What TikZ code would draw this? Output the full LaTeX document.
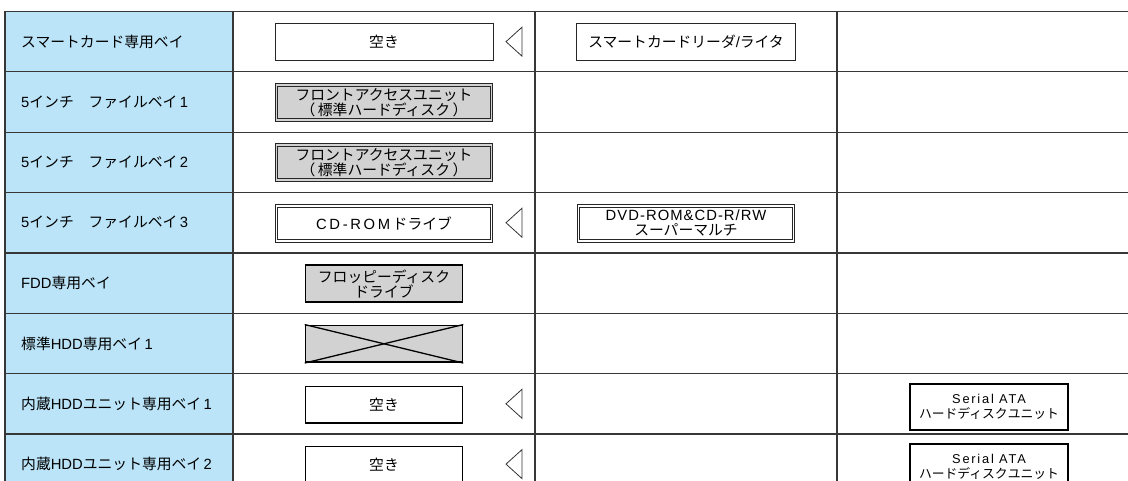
\documentclass[tikz,border=0pt]{standalone}
\usepackage{fontspec}
\setmainfont{Noto Sans CJK JP}
\newfontfamily\latin{Liberation Sans}

\definecolor{baycol}{RGB}{187,228,248}
\definecolor{slotgray}{RGB}{210,210,210}
\definecolor{gridcol}{RGB}{55,55,55}

\tikzset{
  gridline/.style={draw=gridcol, line width=1.3pt},
  baylabel/.style={anchor=west, inner sep=0pt, font=\fontsize{14.8}{15}\selectfont},
  slot/.style={draw=black!85, line width=0.8pt, minimum height=37.7pt, inner sep=0pt,
    align=center, font=\fontsize{14.8}{15}\selectfont},
  slotthick/.style={slot, draw=black, line width=1.6pt, minimum height=36.9pt},
  slotdbl/.style={slot, line width=0.9pt, double distance=1.8pt, minimum height=35pt},
  bayarrow/.style={draw=black!80, line width=0.8pt, line join=miter},
}

\begin{document}
\begin{tikzpicture}[x=1pt,y=-1pt]
  \useasboundingbox (0,0) rectangle (1128,481);
  \clip (0,0) rectangle (1128,481);
  % table
  \fill[baycol] (5,11.5) rectangle (233,494);
  \foreach \i in {0,...,8}
    \draw[gridline] (5,{11.5+60.35*\i}) -- (1141,{11.5+60.35*\i});
  \foreach \x in {5,233,535,837}
    \draw[gridline] (\x,11.5) -- (\x,494);

  % bay names
  \node[baylabel] (bay1) at (21,41.7) {スマートカード専用ベイ};
  \node[baylabel] (bay2) at (21,102) {{\latin 5}インチ　ファイルベイ{\latin\,1}};
  \node[baylabel] (bay3) at (21,162.4) {{\latin 5}インチ　ファイルベイ{\latin\,2}};
  \node[baylabel] (bay4) at (21,222.7) {{\latin 5}インチ　ファイルベイ{\latin\,3}};
  \node[baylabel] (bay5) at (21,283.1) {{\latin FDD}専用ベイ};
  \node[baylabel] (bay6) at (21,343.4) {標準{\latin HDD}専用ベイ{\latin\,1}};
  \node[baylabel] (bay7) at (21,403.8) {内蔵{\latin HDD}ユニット専用ベイ{\latin\,1}};
  \node[baylabel] (bay8) at (21,464.2) {内蔵{\latin HDD}ユニット専用ベイ{\latin\,2}};

  % installed units
  \node[slot, minimum width=218pt] (empty1) at (384,41.8) {空き};
  \node[slotdbl, fill=slotgray, double=slotgray, minimum width=215pt] (front2) at (384,102.4)
    {フロントアクセスユニット\\（\,標準ハードディスク\,）};
  \node[slotdbl, fill=slotgray, double=slotgray, minimum width=215pt] (front3) at (384,162.8)
    {フロントアクセスユニット\\（\,標準ハードディスク\,）};
  \node[slotdbl, fill=white, double=white, minimum width=215pt] (cdrom4) at (384,223.4)
    {{\latin\addfontfeature{LetterSpace=18}CD-ROM}\,ドライブ};
  \node[slotthick, fill=slotgray, minimum width=157pt] (fdd5) at (384,283.6)
    {フロッピーディスク\\ドライブ};
  \node[slotthick, fill=slotgray, minimum width=157pt] (hdd6) at (384,343.8) {};
  \draw[line width=1.3pt] (hdd6.north west) -- (hdd6.south east);
  \draw[line width=1.3pt] (hdd6.south west) -- (hdd6.north east);
  \node[slotthick, fill=white, minimum width=157pt] (empty7) at (384,404.8) {空き};
  \node[slotthick, fill=white, minimum width=157pt] (empty8) at (384,465) {空き};

  % exchange marks
  \foreach \i in {1,4,7,8}
    \draw[bayarrow] (522,{11.5+60.35*(\i-0.5)-14.5}) -- (506,{11.5+60.35*(\i-0.5)})
      -- (522,{11.5+60.35*(\i-0.5)+14.5}) -- cycle;

  % options
  \node[slot, minimum width=219pt] (reader1) at (686,41.8) {スマートカードリーダ{\latin /}ライタ};
  \node[slotdbl, fill=white, double=white, minimum width=215pt] (dvd4) at (686,223.4)
    {{\latin\addfontfeature{LetterSpace=7}DVD-ROM\&CD-R/RW}\\スーパーマルチ};
  \node[slotthick, fill=white, minimum width=158pt, minimum height=46.5pt,
    font=\fontsize{12.8}{15}\selectfont] (sata7) at (989,407)
    {{\latin\addfontfeature{LetterSpace=14}Serial ATA}\\ハードディスクユニット};
  \node[slotthick, fill=white, minimum width=158pt, minimum height=46.5pt,
    font=\fontsize{12.8}{15}\selectfont] (sata8) at (989,467.3)
    {{\latin\addfontfeature{LetterSpace=14}Serial ATA}\\ハードディスクユニット};
\end{tikzpicture}
\end{document}
